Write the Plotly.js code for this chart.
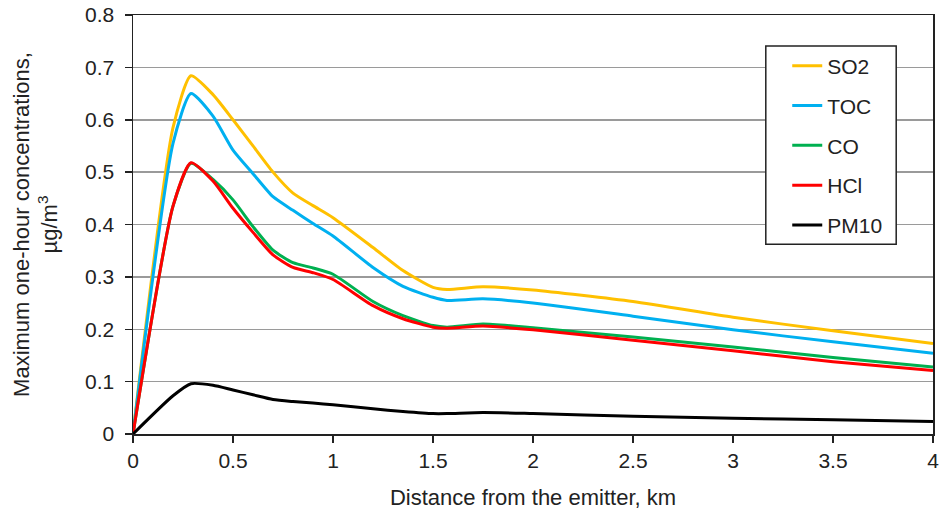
<!DOCTYPE html>
<html>
<head>
<meta charset="utf-8">
<script src="https://cdn.plot.ly/plotly-3.0.1.min.js"></script>
<style>html,body{margin:0;padding:0;background:#fff;}#chart{width:942px;height:514px;}</style>
</head>
<body>
<div id="chart"></div>
<script>
var distance = [0, 0.2, 0.29, 0.4, 0.5, 0.6, 0.7, 0.8, 0.9, 1.0, 1.2, 1.35, 1.5, 1.57, 1.75, 2.0, 2.5, 3.0, 3.5, 4.0];
var so2  = [0, 0.585, 0.684, 0.648, 0.600, 0.550, 0.500, 0.460, 0.436, 0.413, 0.356, 0.312, 0.280, 0.276, 0.281, 0.275, 0.253, 0.223, 0.197, 0.173];
var toc  = [0, 0.555, 0.650, 0.607, 0.542, 0.497, 0.453, 0.427, 0.402, 0.378, 0.318, 0.282, 0.261, 0.255, 0.258, 0.250, 0.225, 0.199, 0.176, 0.154];
var co   = [0, 0.435, 0.517, 0.486, 0.447, 0.396, 0.351, 0.327, 0.317, 0.305, 0.253, 0.226, 0.207, 0.204, 0.210, 0.203, 0.185, 0.166, 0.146, 0.128];
var hcl  = [0, 0.435, 0.518, 0.483, 0.431, 0.385, 0.342, 0.318, 0.308, 0.295, 0.245, 0.220, 0.204, 0.202, 0.206, 0.199, 0.179, 0.159, 0.138, 0.121];
var pm10 = [0, 0.073, 0.096, 0.093, 0.084, 0.075, 0.066, 0.062, 0.059, 0.056, 0.048, 0.043, 0.039, 0.039, 0.041, 0.039, 0.034, 0.030, 0.027, 0.024];
var names = ["SO2", "TOC", "CO", "HCl", "PM10"];
var colors = ["#FFC000", "#00B0F0", "#00B050", "#FF0000", "#000000"];
var series = [so2, toc, co, hcl, pm10];

var traces = series.map(function (s, i) {
  return {
    x: distance, y: s, name: names[i], type: "scatter", mode: "lines",
    line: {color: colors[i], width: 3, shape: "spline", smoothing: 0.6},
    legendgroup: "g" + i
  };
});

var font = "Liberation Sans, Arial, sans-serif";
var layout = {
  width: 942, height: 514,
  margin: {l: 133, r: 9, t: 15, b: 80},
  paper_bgcolor: "#fff", plot_bgcolor: "#fff",
  font: {family: font, size: 21, color: "#222"},
  showlegend: true,
  legend: {
    x: 0.8178, y: 0.927, xanchor: "left", yanchor: "top",
    bgcolor: "rgba(0,0,0,0)", borderwidth: 0,
    font: {family: font, size: 21, color: "#222"},
    traceorder: "grouped", tracegroupgap: 9.5
  },
  shapes: [{
    type: "rect", xref: "paper", yref: "paper",
    x0: 0.791, x1: 0.954, y0: 0.453, y1: 0.926,
    line: {color: "#222", width: 1.5}, fillcolor: "#fff", layer: "above"
  }],
  xaxis: {
    range: [0, 4], dtick: 0.5, tick0: 0,
    showline: true, linecolor: "#222", linewidth: 1.5, mirror: true,
    ticks: "outside", ticklen: 7, tickwidth: 1.5, tickcolor: "#222",
    showgrid: false, zeroline: false,
    tickfont: {family: font, size: 21, color: "#222"},
    title: {text: "Distance from the emitter, km", font: {family: font, size: 22, color: "#222"}, standoff: 19}
  },
  yaxis: {
    range: [0, 0.8], dtick: 0.1, tick0: 0,
    showline: true, linecolor: "#222", linewidth: 1.5, mirror: true,
    ticks: "outside", ticklen: 7, tickwidth: 1.5, tickcolor: "#222",
    ticklabelstandoff: 6,
    showgrid: true, gridcolor: "#9a9a9a", gridwidth: 1.5, zeroline: false,
    tickfont: {family: font, size: 21, color: "#222"},
    title: {text: "Maximum one-hour concentrations,<br>µg/m<sup>3</sup>", font: {family: font, size: 22, color: "#222"}, standoff: 21}
  }
};

Plotly.newPlot("chart", traces, layout, {displayModeBar: false, staticPlot: true});
</script>
</body>
</html>
